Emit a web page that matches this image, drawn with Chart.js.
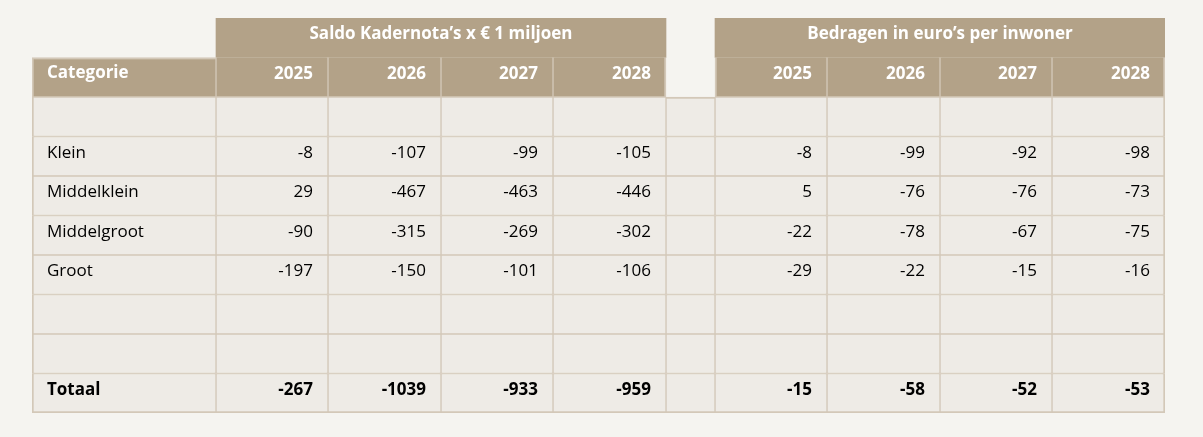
<!DOCTYPE html>
<html lang="nl">
<head>
<meta charset="utf-8">
<title>Saldo Kadernota's</title>
<script src="https://cdn.jsdelivr.net/npm/chart.js"></script>
<style>
    html, body { margin: 0; padding: 0; background: #f5f4f0; }
    #wrap { position: relative; width: 1203px; height: 437px; }
</style>
</head>
<body>
<div id="wrap"><canvas id="tabel"></canvas></div>
<script>
// Gegevens
const groepen = ['Saldo Kadernota\u2019s x \u20ac 1 miljoen', 'Bedragen in euro\u2019s per inwoner'];
const categorieKop = 'Categorie';
const jaren = ['2025', '2026', '2027', '2028'];
const categorieen = ['', 'Klein', 'Middelklein', 'Middelgroot', 'Groot', '', '', 'Totaal'];

const saldo2025 = [null, -8, 29, -90, -197, null, null, -267];
const saldo2026 = [null, -107, -467, -315, -150, null, null, -1039];
const saldo2027 = [null, -99, -463, -269, -101, null, null, -933];
const saldo2028 = [null, -105, -446, -302, -106, null, null, -959];

const inwoner2025 = [null, -8, 5, -22, -29, null, null, -15];
const inwoner2026 = [null, -99, -76, -78, -22, null, null, -58];
const inwoner2027 = [null, -92, -76, -67, -15, null, null, -52];
const inwoner2028 = [null, -98, -73, -75, -16, null, null, -53];

// Opmaak (kolombreedtes in schaal-eenheden, kolom 5 is de tussenruimte)
const kolomBreedte = [184, 112, 113, 112, 113, 49, 112, 113, 112, 113];
const KLEUR_KOP = '#b3a288';
const KLEUR_CEL = '#eeebe6';
const KLEUR_LIJN = '#d3c8b8';
const FONT = "'Open Sans', sans-serif";

const randen = [0];
kolomBreedte.forEach(b => randen.push(randen[randen.length - 1] + b));
const totaleBreedte = randen[randen.length - 1];

// rij 0 = groepskop, rij 1 = kolomkop, daarna de categorieën
const rijen = ['groep', 'kop', ...categorieen.map((c, i) => 'r' + i)];

// kolom -> waarden (null voor categorie- en tussenkolom)
const kolomWaarden = [null, saldo2025, saldo2026, saldo2027, saldo2028, null,
    inwoner2025, inwoner2026, inwoner2027, inwoner2028];

function randBreedte(c, r) {
    if (r === 0) return 0;
    return {
        top: r === 1 ? (c === 0 ? 2 : 0) : (r === 2 && c === 5 ? 2 : 1),
        bottom: r === rijen.length - 1 ? 2 : 1,
        left: c === 0 || (c === 6 && r === 1) ? 2 : 1,
        right: c === kolomBreedte.length - 1 || (c === 4 && r === 1) ? 2 : 1,
    };
}

const datasets = kolomBreedte.map((b, c) => ({
    label: 'kolom' + c,
    data: rijen.map((_, r) => {
        if (r === 0) return null;
        if (c === 5 && r === 1) return null;
        return [randen[c], randen[c + 1]];
    }),
    backgroundColor: ctx => (ctx.dataIndex <= 1 ? KLEUR_KOP : KLEUR_CEL),
    borderColor: KLEUR_LIJN,
    borderWidth: ctx => randBreedte(c, ctx.dataIndex),
    borderSkipped: false,
    grouped: false,
    barPercentage: 1,
    categoryPercentage: 1,
}));

// groepskoppen over vier jaarkolommen
[[1, 5], [6, 10]].forEach(([a, z], g) => {
    datasets.push({
        label: groepen[g],
        data: rijen.map((_, r) => (r === 0 ? [randen[a], randen[z]] : null)),
        backgroundColor: KLEUR_KOP,
        borderWidth: 0,
        borderSkipped: false,
        grouped: false,
        barPercentage: 1,
        categoryPercentage: 1,
    });
});

const tekstPlugin = {
    id: 'tekst',
    afterDatasetsDraw: (chart) => {
        const { ctx: c, scales: { x, y } } = chart;
        const px = v => x.getPixelForValue(v);
        const py = r => y.getPixelForValue(r) - 3.5;
        const pad = 15;
        c.save();
        c.textBaseline = 'middle';

        // groepskoppen
        c.fillStyle = '#ffffff';
        c.font = `bold 17px ${FONT}`;
        c.textAlign = 'center';
        c.fillText(groepen[0], (px(randen[1]) + px(randen[5])) / 2, py(0));
        c.fillText(groepen[1], (px(randen[6]) + px(randen[10])) / 2, py(0));

        // kolomkoppen
        c.textAlign = 'left';
        c.fillText(categorieKop, px(randen[0]) + pad, py(1) - 1);
        c.textAlign = 'right';
        [1, 2, 3, 4, 6, 7, 8, 9].forEach((k, i) => {
            c.fillText(jaren[i % 4], px(randen[k + 1]) - pad, py(1));
        });

        // categorieën en waarden
        c.fillStyle = '#000000';
        categorieen.forEach((naam, i) => {
            const r = i + 2;
            const vet = naam === 'Totaal';
            c.font = `${vet ? 'bold ' : ''}17px ${FONT}`;
            c.textAlign = 'left';
            if (naam) c.fillText(naam, px(randen[0]) + pad, py(r));
            c.textAlign = 'right';
            kolomWaarden.forEach((reeks, k) => {
                if (!reeks || reeks[i] == null) return;
                c.fillText(String(reeks[i]), px(randen[k + 1]) - pad, py(r));
            });
        });
        c.restore();
    },
};

new Chart(document.getElementById('tabel').getContext('2d'), {
    type: 'bar',
    data: { labels: rijen, datasets },
    options: {
        indexAxis: 'y',
        responsive: true,
        maintainAspectRatio: false,
        animation: false,
        events: [],
        layout: { padding: { left: 32, right: 38, top: 18, bottom: 24 } },
        plugins: { legend: { display: false }, tooltip: { enabled: false } },
        scales: {
            x: { type: 'linear', min: 0, max: totaleBreedte, display: false },
            y: { type: 'category', display: false, offset: true },
        },
    },
    plugins: [tekstPlugin],
});
</script>
</body>
</html>
